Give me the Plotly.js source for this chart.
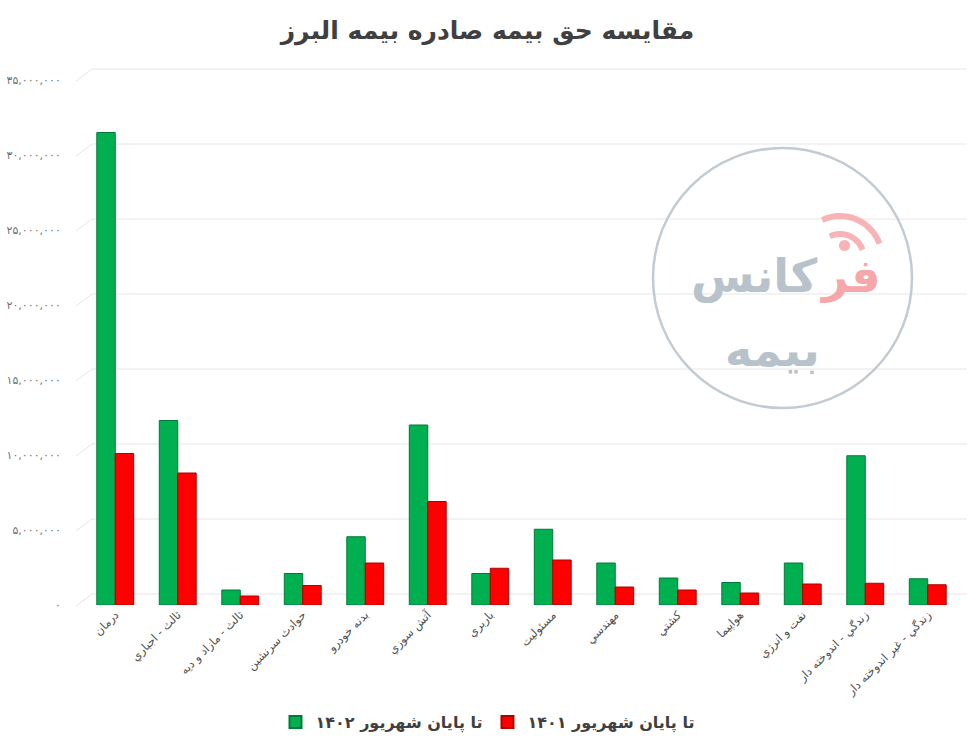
<!DOCTYPE html>
<html><head><meta charset="utf-8">
<script src="https://cdn.plot.ly/plotly-3.0.1.min.js"></script>
<style>body{margin:0;background:#fff}</style>
</head><body><div id="chart" style="width:975px;height:754px"></div>
<script>
const chartTitle = 'مقایسه حق بیمه صادره بیمه البرز';
const categories = ['درمان','ثالث - اجباري','ثالث - مازاد و ديه','حوادث سرنشين','بدنه خودرو','آتش سوزي','باربري','مسئوليت','مهندسي','كشتي','هواپيما','نفت و انرژي','زندگي - اندوخته دار','زندگي - غير اندوخته دار'];
const series1402 = [31500000,12300000,1000000,2100000,4550000,12000000,2100000,5050000,2800000,1800000,1500000,2800000,9950000,1750000];
const series1401 = [10100000,8800000,600000,1300000,2800000,6900000,2450000,3000000,1200000,1000000,800000,1400000,1450000,1350000];
const seriesNames = ['تا پایان شهریور ۱۴۰۲','تا پایان شهریور ۱۴۰۱'];
const yTickValues = [0,5000000,10000000,15000000,20000000,25000000,30000000,35000000];
const watermarkWord1a = 'فر';
const watermarkWord1b = 'کانس';
const watermarkWord2 = 'بیمه';

const faDigits = '۰۱۲۳۴۵۶۷۸۹';
function toFa(s){ return String(s).replace(/[0-9]/g, d => faDigits[+d]); }
function fmt(v){ return toFa(v.toLocaleString('en-US')); }
const yTickText = yTickValues.map(fmt);

const W = 975, H = 754, ML = 84, MR = 16, MT = 80, MB = 149;
const PW = W - ML - MR, PH = H - MT - MB;
const YMAX = 35000000;
const px = x => (x - ML) / PW;         // pixel x -> paper
const py = y => (H - MB - y) / PH;     // pixel y -> paper
const vy = v => v / YMAX;              // value -> paper

const FONT = 'DejaVu Sans';

const traces = [
  {type:'bar', name: seriesNames[0], x: categories, y: series1402,
   marker:{color:'#00B050', line:{color:'#007A38', width:1}}},
  {type:'bar', name: seriesNames[1], x: categories, y: series1401,
   marker:{color:'#FF0000', line:{color:'#B00000', width:1}}}
];

const shapes = [];
yTickValues.forEach(v => {
  const yb = vy(v) + 11/PH;
  shapes.push({type:'line', xref:'paper', yref:'paper', x0:px(92), x1:px(967), y0:yb, y1:yb,
    line:{color:'#e6e6e6', width:1}, layer:'below'});
  shapes.push({type:'line', xref:'paper', yref:'paper', x0:px(76), x1:px(92), y0:vy(v)-1/PH, y1:yb,
    line:{color:'#e6e6e6', width:1}, layer:'below'});
});
// watermark circle
shapes.push({type:'circle', xref:'paper', yref:'paper', x0:px(653), x1:px(912), y0:py(408), y1:py(148),
  line:{color:'#c3cbd2', width:2.5}, fillcolor:'rgba(0,0,0,0)', layer:'above'});
// wifi arcs
function arcPath(cx, cy, r, a0, a1){
  let p = '';
  for(let i=0;i<=16;i++){
    const a = (a0 + (a1-a0)*i/16) * Math.PI/180;
    const x = cx + r*Math.cos(a), y = cy - r*Math.sin(a);
    p += (i===0?'M':'L') + px(x).toFixed(5) + ',' + py(y).toFixed(5);
  }
  return p;
}
[[24,6],[42,6]].forEach(([r,w]) => {
  shapes.push({type:'path', xref:'paper', yref:'paper', path: arcPath(840, 258, r, 20, 115),
    line:{color:'#f7b3b5', width:w}, layer:'above'});
});
shapes.push({type:'circle', xref:'paper', yref:'paper', x0:px(839), x1:px(850), y0:py(251), y1:py(240),
  line:{width:0}, fillcolor:'#f7b3b5', layer:'above'});

const annotations = [
  {text: watermarkWord1b, xref:'paper', yref:'paper', x:px(820), y:py(276), xanchor:'right', yanchor:'middle',
   showarrow:false, font:{family:FONT, size:46, color:'#b8c2ca', weight:'bold'}},
  {text: watermarkWord1a, xref:'paper', yref:'paper', x:px(818), y:py(276), xanchor:'left', yanchor:'middle',
   showarrow:false, font:{family:FONT, size:46, color:'#f5a7a9', weight:'bold'}},
  {text: watermarkWord2, xref:'paper', yref:'paper', x:px(772), y:py(350), xanchor:'center', yanchor:'middle',
   showarrow:false, font:{family:FONT, size:46, color:'#b8c2ca', weight:'bold'}}
];

const layout = {
  width: W, height: H,
  margin:{l:ML, r:MR, t:MT, b:MB},
  paper_bgcolor:'#ffffff', plot_bgcolor:'rgba(0,0,0,0)',
  font:{family:FONT, color:'#595959'},
  title:{text: chartTitle, x:0.5, xref:'container', xanchor:'center', y:1-30/H, yref:'container', yanchor:'middle',
    font:{family:FONT, size:25, color:'#404040', weight:'bold'}},
  barmode:'group', bargap:0.41, bargroupgap:0,
  xaxis:{type:'category', tickangle:-45, showgrid:false, showline:false, zeroline:false, ticks:'',
    tickfont:{family:FONT, size:11.5, color:'#505050'}, automargin:false},
  yaxis:{range:[0, YMAX], tickvals:yTickValues, ticktext:yTickText, showgrid:false, zeroline:false, showline:false,
    ticks:'outside', ticklen:20, tickcolor:'rgba(0,0,0,0)', tickfont:{family:FONT, size:11, color:'#707070'}, automargin:false},
  legend:{orientation:'h', xref:'container', yref:'container', x:0.5, y:1-722/H, xanchor:'center', yanchor:'middle',
    font:{family:FONT, size:16, color:'#404040', weight:'bold'}, traceorder:'normal', itemsizing:'constant'},
  shapes: shapes,
  annotations: annotations,
  showlegend:true
};

Plotly.newPlot('chart', traces, layout, {displayModeBar:false, staticPlot:true});
</script></body></html>
